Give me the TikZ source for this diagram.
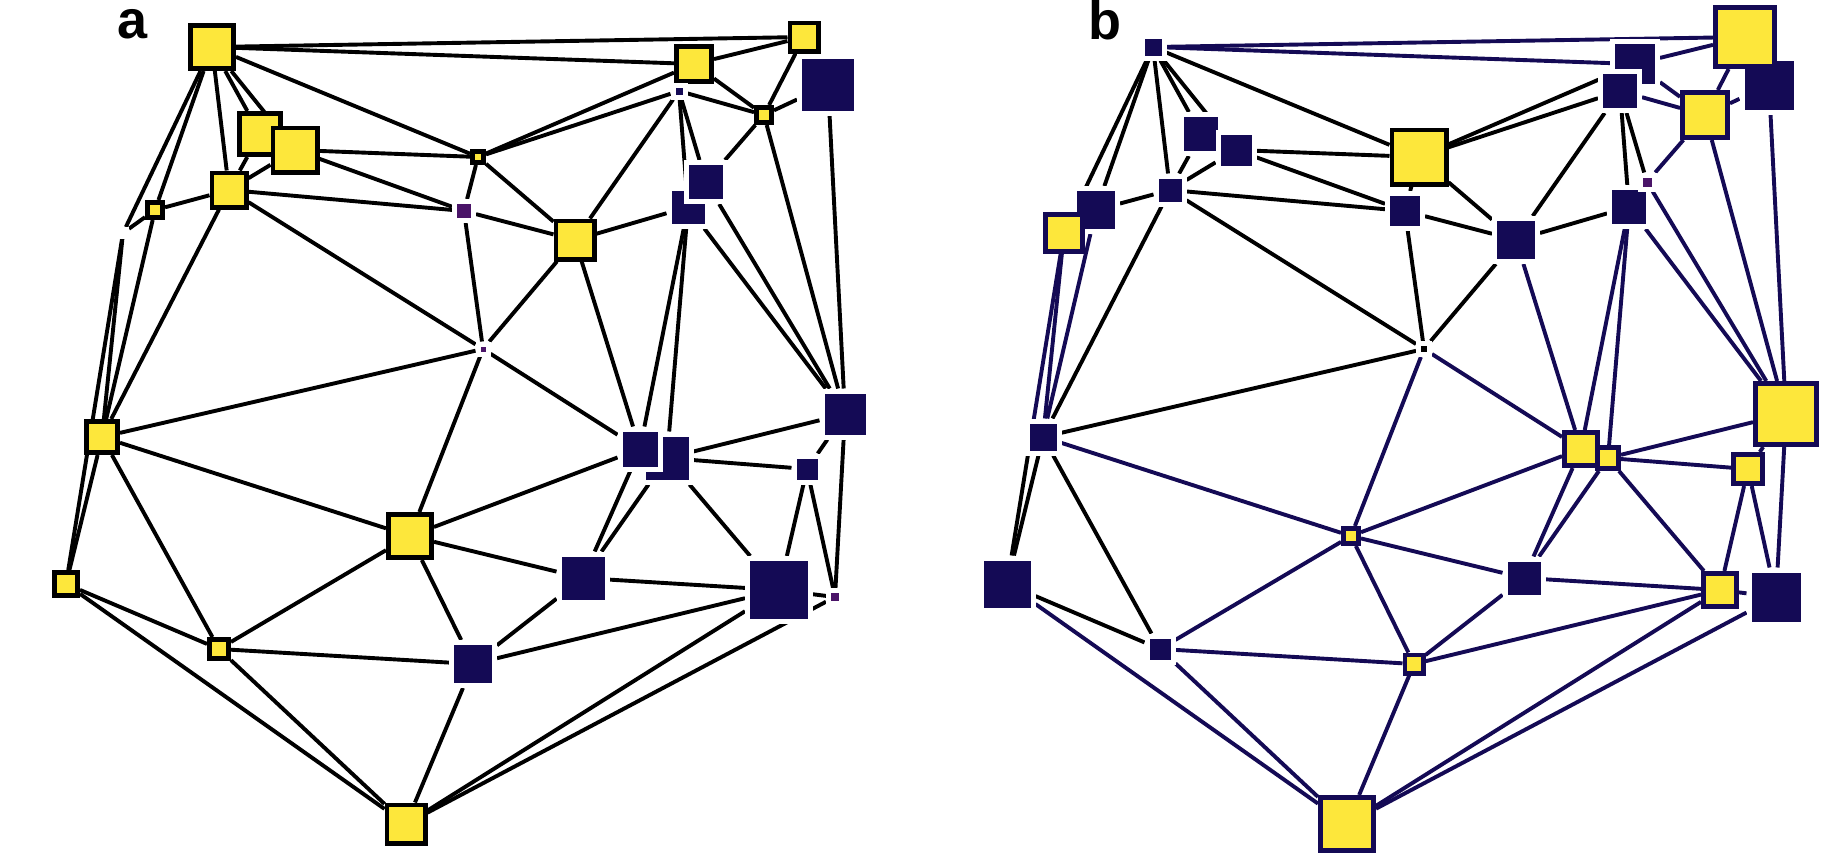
\documentclass[tikz,border=0pt]{standalone}
\usepackage{fontspec}
\setmainfont{Liberation Sans}
\usetikzlibrary{calc}
\definecolor{yel}{HTML}{FDE73B}
\definecolor{navy}{HTML}{140A55}
\definecolor{purp}{HTML}{4A1468}
\pgfdeclarelayer{edges}
\pgfsetlayers{edges,main}

\begin{document}
\begin{tikzpicture}[x=1pt,y=-1pt,
  base/.style={rectangle, inner sep=0pt},
  % yellow squares: outer size given, border inside it
  yk/.style={base, draw=black, fill=yel, line width=4.8pt, minimum size={(#1-4.8)*1pt}},
  yn/.style={base, draw=navy, fill=yel, line width=4.8pt, minimum size={(#1-4.8)*1pt}},
  % dark squares with a thin white halo
  dk/.style={base, draw=white, fill=navy, line width=5pt, minimum size={(#1+5)*1pt}},
  pk/.style={dk=#1, fill=purp},
  bk/.style={dk=#1, fill=black},
  wt/.style={dk=#1, fill=white},
  ea/.style={draw=black, line width=3.9pt},
  eb/.style={draw=navy, line width=3.9pt},
  lbl/.style={font=\fontsize{54}{54}\selectfont\bfseries, anchor=base, inner sep=0pt,
    text depth=0pt}
]
\useasboundingbox (0,0) rectangle (1821,854);

\node[lbl, text height=30pt] (la) at (133,38) {a};
\node[lbl, text height=37pt] (lb) at (1105,39) {b};

% ---------------- network a ----------------
\node[yk=48] (A1) at (212,47) {};
\node[yk=46] (A2) at (260,134) {};
\node[yk=49] (A3) at (295,150) {};
\node[yk=39] (A4) at (229,190) {};
\node[yk=20] (A5) at (155,210) {};
\node[wt=2]  (A6) at (123,233) {};
\node[yk=36] (A7) at (102,437) {};
\node[yk=28] (A8) at (66,584) {};
\node[yk=48] (A9) at (410,536) {};
\node[yk=24] (A10) at (219,649) {};
\node[yk=43] (A11) at (406,824) {};
\node[yk=33] (A12) at (804,37) {};
\node[yk=40] (A13) at (694,64) {};
\node[dk=7]  (A14) at (679,91) {};
\node[yk=20] (A15) at (764,115) {};
\node[dk=52] (A16) at (828,85) {};
\node[yk=16] (A17) at (478,157) {};
\node[pk=14] (A18) at (464,211) {};
\node[yk=43] (A19) at (575,240) {};
\node[dk=33] (A21) at (688,207) {};
\node[dk=34] (A20) at (706,182) {};
\node[pk=5]  (A22) at (483,349) {};
\node[dk=41] (A23) at (845,414) {};
\node[dk=43] (A25) at (667,458) {};
\node[dk=35] (A24) at (640,449) {};
\node[dk=21] (A26) at (807,469) {};
\node[dk=58] (A27) at (779,590) {};
\node[pk=8]  (A28) at (835,597) {};
\node[dk=43] (A29) at (583,578) {};
\node[dk=38] (A30) at (473,664) {};

% ---------------- network b ----------------
\node[dk=17] (B1) at (1153,47) {};
\node[dk=34] (B2) at (1201,134) {};
\node[dk=31] (B3) at (1236,150) {};
\node[dk=23] (B4) at (1170,190) {};
\node[dk=38] (B5) at (1096,210) {};
\node[yn=42] (B6) at (1064,233) {};
\node[dk=27] (B7) at (1043,437) {};
\node[dk=47] (B8) at (1007,584) {};
\node[yn=20] (B9) at (1351,536) {};
\node[dk=21] (B10) at (1160,649) {};
\node[yn=58] (B11) at (1347,824) {};
\node[dk=49] (B16) at (1769,85) {};
\node[yn=64] (B12) at (1745,37) {};
\node[dk=40] (B13) at (1635,64) {};
\node[dk=34] (B14) at (1620,91) {};
\node[yn=50] (B15) at (1705,115) {};
\node[yk=59] (B17) at (1419,157) {};
\node[dk=30] (B18) at (1405,211) {};
\node[dk=38] (B19) at (1516,240) {};
\node[dk=34] (B21) at (1629,207) {};
\node[pk=9]  (B20) at (1647,182) {};
\node[bk=6]  (B22) at (1424,349) {};
\node[yn=66] (B23) at (1786,414) {};
\node[yn=26] (B25) at (1608,458) {};
\node[yn=38] (B24) at (1581,449) {};
\node[yn=34] (B26) at (1748,469) {};
\node[yn=38] (B27) at (1720,590) {};
\node[dk=49] (B28) at (1776,597) {};
\node[dk=33] (B29) at (1524,578) {};
\node[yn=23] (B30) at (1414,664) {};

\begin{pgfonlayer}{edges}
  % links of network a
  \foreach \i/\j in {1/12,1/13,1/17,1/2,1/3,1/4,1/5,1/6,
      2/4,3/4,3/17,3/18,4/18,4/5,4/22,4/7,
      5/6,5/7,6/7,6/8,7/8,7/22,7/9,7/10,
      8/10,8/11,10/9,10/30,10/11,9/22,9/24,9/29,9/30,
      11/30,11/27,11/28,
      12/13,12/15,13/15,13/17,14/17,14/15,14/19,14/21,14/20,
      15/20,15/16,15/23,16/23,20/23,21/23,19/21,17/18,17/19,18/19,
      18/22,19/22,19/24,21/24,21/25,22/24,
      24/29,25/29,25/27,25/23,25/26,26/23,26/27,26/28,23/28,27/28,
      29/27,29/30,30/27}
    \draw[ea] (A\i) -- (A\j);
  % links of network b, black group
  \foreach \i/\j in {1/2,1/3,1/4,1/5,1/6,1/17,2/4,3/4,3/17,3/18,4/18,4/5,
      4/22,4/7,5/6,7/22,7/10,7/8,8/10,13/17,14/17,14/19,14/21,14/20,
      19/21,17/18,17/19,18/19,18/22,19/22}
    \draw[ea] (B\i) -- (B\j);
  % links of network b, navy group
  \foreach \i/\j in {1/12,1/13,5/7,6/7,7/9,8/11,10/9,10/30,10/11,9/22,
      9/24,9/29,9/30,11/30,11/27,11/28,12/13,12/15,13/15,14/15,
      15/20,15/16,15/23,16/23,20/23,21/23,19/24,21/24,21/25,22/24,24/29,
      25/29,25/27,25/23,25/26,26/23,26/27,26/28,23/28,27/28,29/27,
      29/30,30/27}
    \draw[eb] (B\i) -- (B\j);
  % link that changes colour behind B7
  \draw[eb] (B6) -- ($(B6)!0.55!(B8)$) coordinate (mid68);
  \draw[ea] (mid68) -- (B8);
\end{pgfonlayer}
\end{tikzpicture}
\end{document}
